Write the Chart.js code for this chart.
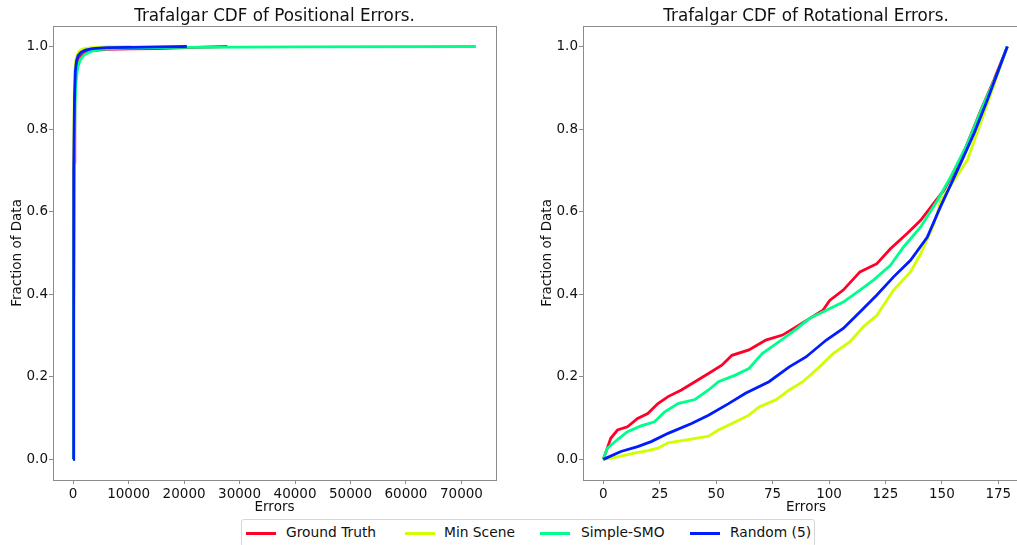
<!DOCTYPE html>
<html>
<head>
<meta charset="utf-8">
<script src="https://cdn.jsdelivr.net/npm/chart.js@4"></script>
<style>
  body { margin: 0; width: 1017px; height: 545px; overflow: hidden; background: #fff; position: relative; font-family: "DejaVu Sans", sans-serif; }
  canvas { position: absolute; top: 0; }
  #legend { position: absolute; left: 241px; top: 519px; width: 572px; height: 26px; border: 1px solid #d6d6d6; border-radius: 3px; background: #fff; }
  #legend .line { position: absolute; top: 12px; width: 30px; height: 3px; }
  #legend .txt { position: absolute; top: 4px; font-size: 13.8px; color: #111; white-space: nowrap; }
</style>
</head>
<body>
<canvas id="posChart" width="549" height="516" style="left:0px;width:549px;height:516px"></canvas>
<canvas id="rotChart" width="552" height="516" style="left:530px;width:552px;height:516px"></canvas>
<div id="legend"></div>

<script>
// series names and colours (gist_rainbow picks)
const seriesNames = ['Ground Truth', 'Min Scene', 'Simple-SMO', 'Random (5)'];
const seriesColors = ['#ff0029', '#cfff00', '#00ff8a', '#001cff'];

// positional errors: x = error, y = fraction of data
const posX_gt = [0, 70, 180, 300, 500, 800, 1200, 2000, 3500, 6000, 10000, 15000, 22000, 27800];
const posY_gt = [0, 0.32, 0.72, 0.87, 0.93, 0.96, 0.975, 0.985, 0.99, 0.993, 0.994, 0.995, 0.998, 1.0];
const posX_mn = [0, 50, 130, 220, 350, 550, 850, 1300, 2000, 3500, 6000, 10500];
const posY_mn = [0, 0.35, 0.75, 0.9, 0.95, 0.972, 0.984, 0.991, 0.995, 0.997, 0.999, 1.0];
const posX_ss = [0, 80, 200, 350, 550, 850, 1300, 2000, 3200, 5000, 9000, 20000, 40000, 72600];
const posY_ss = [0, 0.3, 0.7, 0.86, 0.92, 0.95, 0.968, 0.98, 0.988, 0.993, 0.996, 0.998, 0.999, 1.0];
const posX_rn = [0, 60, 150, 250, 400, 600, 900, 1400, 2200, 3500, 6000, 10000, 15000, 20500];
const posY_rn = [0, 0.3, 0.7, 0.88, 0.94, 0.965, 0.978, 0.986, 0.991, 0.995, 0.997, 0.998, 0.999, 1.0];

// rotational errors
const rotX_gt = [0, 3.3, 6.3, 10.7, 15.2, 19.7, 24.2, 28.7, 34.6, 40.6, 46.6, 52.5, 57, 64.5, 72, 79.4, 85.4, 91.3, 97.3, 100.3, 106.3, 113.7, 121.2, 127.2, 134.6, 140.6, 147.3, 150.9, 158.3, 167.2, 173, 179];
const rotY_gt = [0, 0.051, 0.071, 0.079, 0.099, 0.111, 0.135, 0.152, 0.168, 0.188, 0.208, 0.228, 0.252, 0.265, 0.289, 0.301, 0.321, 0.341, 0.361, 0.385, 0.41, 0.454, 0.474, 0.51, 0.547, 0.579, 0.627, 0.652, 0.725, 0.845, 0.918, 1.0];
const rotX_mn = [0, 6.3, 13.7, 19.7, 24.2, 28.7, 37.6, 46.6, 51, 57, 64.5, 69, 76.4, 82.4, 88.4, 95.8, 101.8, 109.3, 115.2, 121.2, 128.6, 136.1, 140.6, 146.6, 149.5, 161.3, 168.6, 179];
const rotY_mn = [0, 0.006, 0.015, 0.021, 0.027, 0.04, 0.048, 0.056, 0.071, 0.087, 0.107, 0.127, 0.144, 0.168, 0.188, 0.224, 0.256, 0.285, 0.321, 0.349, 0.41, 0.454, 0.498, 0.571, 0.627, 0.725, 0.837, 1.0];
const rotX_ss = [0, 1.8, 6.3, 10.7, 16.7, 22.7, 27.2, 33.1, 40.6, 46.6, 51, 58.5, 64.5, 70.4, 77.9, 83.9, 91.3, 98.8, 106.3, 113.7, 119.7, 127.2, 133.1, 140.6, 148, 153.9, 161.3, 168.6, 174.5, 179];
const rotY_ss = [0, 0.027, 0.048, 0.067, 0.081, 0.091, 0.115, 0.135, 0.145, 0.168, 0.188, 0.204, 0.22, 0.256, 0.285, 0.309, 0.341, 0.361, 0.381, 0.41, 0.434, 0.47, 0.515, 0.563, 0.627, 0.684, 0.765, 0.862, 0.934, 1.0];
const rotX_rn = [0, 7.8, 15.2, 21.2, 28.7, 39.1, 46.6, 55.5, 63, 73.4, 82.4, 89.8, 98.8, 106.3, 113.7, 121.2, 128.6, 136.1, 143.5, 149.4, 158.3, 164.2, 170.1, 179];
const rotY_rn = [0, 0.019, 0.031, 0.043, 0.063, 0.087, 0.107, 0.135, 0.16, 0.188, 0.224, 0.248, 0.289, 0.317, 0.357, 0.398, 0.442, 0.482, 0.538, 0.612, 0.717, 0.789, 0.87, 1.0];

// tick labels
const posTicks = [0, 10000, 20000, 30000, 40000, 50000, 60000, 70000];
const rotTicks = [0, 25, 50, 75, 100, 125, 150, 175];
const fracTicks = [0, 0.2, 0.4, 0.6, 0.8, 1.0];

const textColor = '#111';
const spineColor = '#8c8c8c';
const smallFont = { family: 'DejaVu Sans', size: 13.5, lineHeight: 1.2 };

function pairUp(xs, ys) {
  return xs.map((x, i) => ({ x: x, y: ys[i] }));
}

function makeDatasets(xList, yList) {
  return seriesNames.map((name, i) => ({
    label: name,
    data: pairUp(xList[i], yList[i]),
    borderColor: seriesColors[i],
    backgroundColor: seriesColors[i],
    borderWidth: 2.8,
    pointRadius: 0,
    showLine: true,
    fill: false,
    tension: 0,
    order: seriesNames.length - i   // last series drawn on top
  }));
}

// box around the plot area, like matplotlib spines
const frame = {
  id: 'frame',
  afterDatasetsDraw(chart) {
    const a = chart.chartArea;
    const ctx = chart.ctx;
    ctx.save();
    ctx.strokeStyle = spineColor;
    ctx.lineWidth = 1;
    ctx.strokeRect(Math.round(a.left) + 0.5, Math.round(a.top) + 0.5, Math.round(a.right - a.left), Math.round(a.bottom - a.top));
    ctx.restore();
  }
};

function makeChart(id, title, xList, yList, xTicks, xMin, xMax) {
  return new Chart(document.getElementById(id), {
    type: 'scatter',
    data: { datasets: makeDatasets(xList, yList) },
    plugins: [frame],
    options: {
      responsive: false,
      animation: false,
      layout: { padding: 0 },
      plugins: {
        legend: { display: false },
        tooltip: { enabled: false },
        title: {
          display: true,
          text: title,
          color: textColor,
          font: { family: 'DejaVu Sans', size: 16.8, weight: 'normal', lineHeight: 1.05 },
          padding: { top: 8.2, bottom: 0 }
        }
      },
      scales: {
        x: {
          type: 'linear',
          min: xMin,
          max: xMax,
          afterBuildTicks: s => { s.ticks = xTicks.map(v => ({ value: v })); },
          afterFit: s => { s.height = 36; },
          border: { display: false },
          grid: { drawOnChartArea: false, drawTicks: true, tickLength: 4, color: spineColor },
          ticks: {
            color: textColor, padding: 2, maxRotation: 0, autoSkip: false,
            font: smallFont,
            callback: v => String(v)
          },
          title: {
            display: true, text: 'Errors', color: textColor,
            font: smallFont,
            padding: { top: 4, bottom: 0 }
          }
        },
        y: {
          type: 'linear',
          min: -0.05,
          max: 1.05,
          afterBuildTicks: s => { s.ticks = fracTicks.map(v => ({ value: v })); },
          afterFit: s => { s.width = 53; },
          border: { display: false },
          grid: { drawOnChartArea: false, drawTicks: true, tickLength: 4, color: spineColor },
          ticks: {
            color: textColor, padding: 1, autoSkip: false,
            font: smallFont,
            callback: v => v.toFixed(1)
          },
          title: {
            display: true, text: 'Fraction of Data', color: textColor,
            font: smallFont,
            padding: { top: 9, bottom: 0 }
          }
        },
        // empty right-hand strip so the title centres over the plot box
        yr: {
          type: 'linear',
          position: 'right',
          min: 0,
          max: 1,
          afterFit: s => { s.width = 53; },
          border: { display: false },
          grid: { display: false },
          ticks: { display: false }
        }
      }
    }
  });
}

makeChart('posChart', 'Trafalgar CDF of Positional Errors.',
  [posX_gt, posX_mn, posX_ss, posX_rn], [posY_gt, posY_mn, posY_ss, posY_rn],
  posTicks, -3630, 76230);

makeChart('rotChart', 'Trafalgar CDF of Rotational Errors.',
  [rotX_gt, rotX_mn, rotX_ss, rotX_rn], [rotY_gt, rotY_mn, rotY_ss, rotY_rn],
  rotTicks, -9, 188.6);

// shared legend under both plots
const legendPos = [[4, 44], [163, 202], [298, 339], [448, 488]];
const legend = document.getElementById('legend');
seriesNames.forEach((name, i) => {
  const line = document.createElement('span');
  line.className = 'line';
  line.style.left = legendPos[i][0] + 'px';
  line.style.background = seriesColors[i];
  legend.appendChild(line);
  const txt = document.createElement('span');
  txt.className = 'txt';
  txt.style.left = legendPos[i][1] + 'px';
  txt.textContent = name;
  legend.appendChild(txt);
});
</script>
</body>
</html>
